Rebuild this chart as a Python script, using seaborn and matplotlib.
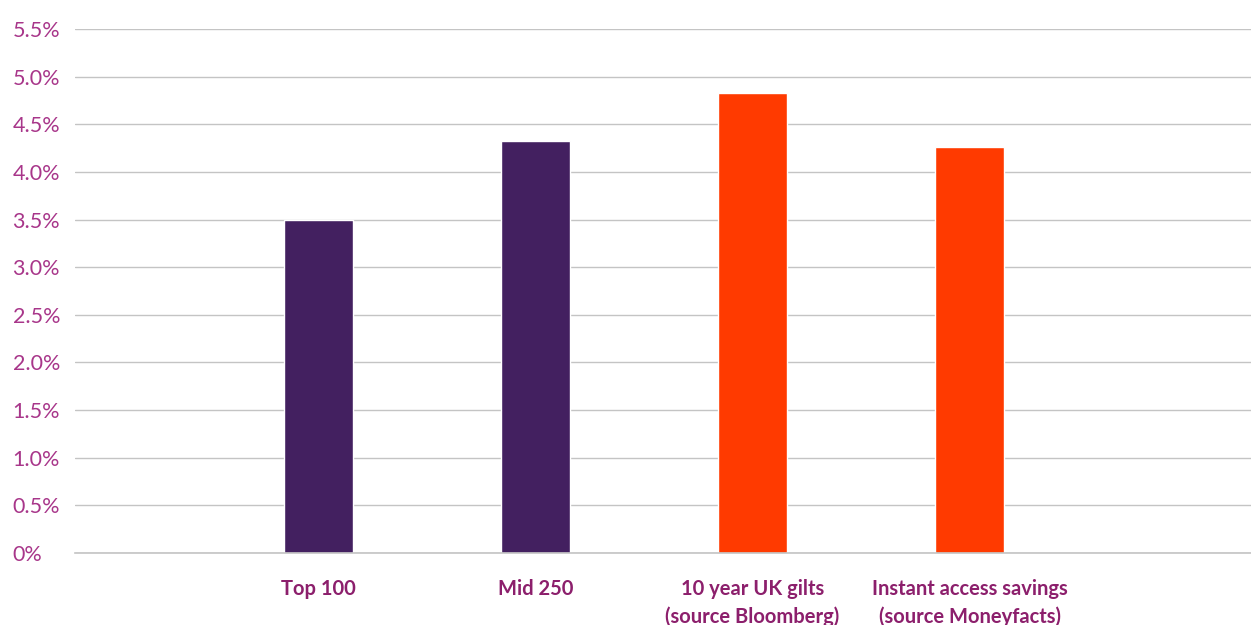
import matplotlib
matplotlib.use("Agg")
import matplotlib.pyplot as plt
import seaborn as sns
import pandas as pd

categories = ["Top 100", "Mid 250", "10 year UK gilts\n(source Bloomberg)",
              "Instant access savings\n(source Moneyfacts)"]
values = [3.50, 4.32, 4.83, 4.26]
bar_colors = ["#432060", "#432060", "#ff3a00", "#ff3a00"]
y_ticks = [0, 0.5, 1.0, 1.5, 2.0, 2.5, 3.0, 3.5, 4.0, 4.5, 5.0, 5.5]
y_labels = ["0%", "0.5%", "1.0%", "1.5%", "2.0%", "2.5%", "3.0%", "3.5%",
            "4.0%", "4.5%", "5.0%", "5.5%"]

sns.set_theme(style="white")
plt.rcParams["font.family"] = ["Lato", "DejaVu Sans"]

df = pd.DataFrame({"cat": categories, "val": values})

fig = plt.figure(figsize=(12.51, 6.25), dpi=100)
ax = fig.add_axes([75 / 1251, 1 - 553 / 625, 1 - 75 / 1251, (553 - 29) / 625])

sns.barplot(data=df, x="cat", y="val", hue="cat", palette=bar_colors,
            order=categories, hue_order=categories, legend=False,
            width=0.32, ax=ax, saturation=1)

ax.set_ylim(0, 5.5)
ax.set_xlim(-1.122, 4.297)
ax.set_yticks(y_ticks)
ax.set_yticklabels(y_labels)
ax.yaxis.grid(True, color="#c4c4c4", linewidth=1)
ax.set_axisbelow(True)
for s in ["top", "right", "left"]:
    ax.spines[s].set_visible(False)
ax.spines["bottom"].set_color("#c4c4c4")
ax.spines["bottom"].set_linewidth(1.2)

ax.set_xlabel("")
ax.set_ylabel("")
ax.tick_params(axis="y", length=0, pad=45, labelsize=15.5, labelcolor="#a8368a")
ax.tick_params(axis="x", length=0, pad=19, labelsize=14.5, labelcolor="#8c1f6c")
for lbl in ax.get_yticklabels():
    lbl.set_horizontalalignment("left")
for lbl in ax.get_xticklabels():
    lbl.set_fontweight("bold")
    lbl.set_linespacing(1.45)

fig.savefig("out.png", dpi=100)
